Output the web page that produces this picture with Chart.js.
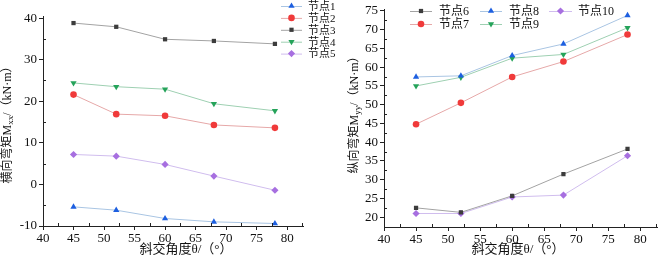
<!DOCTYPE html>
<html>
<head>
<meta charset="utf-8">
<script src="https://cdn.jsdelivr.net/npm/chart.js@4.4.0/dist/chart.umd.min.js"></script>
<style>
  body { margin: 0; background: #fff; }
  #wrap { position: relative; width: 661px; height: 263px; overflow: hidden; }
  canvas { position: absolute; top: 0; }
</style>
</head>
<body>
<div id="wrap">
  <canvas id="left" width="345" height="263" style="left:0"></canvas>
  <canvas id="right" width="331" height="263" style="left:330px"></canvas>
</div>
<script>
// angles (x)
const angles = [45, 52, 60, 68, 78];

// left chart: Mxx
const node1 = [-5.4, -6.2, -8.2, -9.0, -9.4];
const node2 = [21.6, 16.9, 16.5, 14.3, 13.6];
const node3 = [38.8, 37.9, 34.9, 34.5, 33.8];
const node4 = [24.4, 23.5, 22.9, 19.4, 17.7];
const node5 = [7.2, 6.8, 4.8, 2.0, -1.4];

// right chart: Myy
const node6 = [22.5, 21.3, 25.7, 31.5, 38.2];
const node7 = [44.8, 50.5, 57.4, 61.5, 68.7];
const node8 = [57.4, 57.7, 63.1, 66.2, 73.8];
const node9 = [55.0, 57.3, 62.4, 63.4, 70.5];
const node10 = [21.0, 21.0, 25.4, 25.9, 36.4];

const leftTicks = { min: -10, max: 40.5, step: 10 };
const rightTicks = { min: 17.4, max: 75.3, step: 5 };
const xTicks = { min: 40, max: 82.6, step: 5 };

const FONT = '"Liberation Serif", "Noto Sans CJK SC", serif';

// styles : marker colour, line colour, point style, rotation
const styles = {
  blue:   { mk: '#1d5fe0', ln: '#a9c5e3', ps: 'triangle', rot: 0 },
  red:    { mk: '#f03a3a', ln: '#e6a8a8', ps: 'circle', rot: 0 },
  dark:   { mk: '#3c3c3c', ln: '#a3a3a3', ps: 'rect', rot: 0 },
  green:  { mk: '#25a35a', ln: '#9ed0b2', ps: 'triangle', rot: 180 },
  purple: { mk: '#a76fe0', ln: '#d0bdee', ps: 'rectRot', rot: 0 }
};

function makeDs(label, vals, st) {
  const s = styles[st];
  return {
    label: label,
    data: angles.map((a, i) => ({ x: a, y: vals[i] })),
    borderColor: s.ln,
    backgroundColor: s.mk,
    pointBackgroundColor: s.mk,
    pointBorderColor: s.mk,
    pointBorderWidth: 0,
    pointStyle: s.ps,
    pointRotation: s.rot,
    pointRadius: s.ps === 'rect' ? 3 : (s.ps === 'circle' ? 3.3 : 3.6),
    borderWidth: 1,
    tension: 0
  };
}

// titles, minor ticks and legend drawn by hand
const overlay = {
  id: 'overlay',
  afterDraw(chart, args, o) {
    const ctx = chart.ctx;
    const xs = chart.scales.x, ys = chart.scales.y;
    ctx.save();
    ctx.strokeStyle = '#222';
    ctx.lineWidth = 1;
    // minor ticks (inward)
    for (let v = xTicks.min + xTicks.step / 2; v < xTicks.max; v += xTicks.step) {
      const px = Math.round(xs.getPixelForValue(v)) + 0.5;
      ctx.beginPath(); ctx.moveTo(px, ys.bottom); ctx.lineTo(px, ys.bottom - 3); ctx.stroke();
    }
    const yt = o.yt;
    for (let v = Math.ceil(yt.min / yt.step) * yt.step - yt.step / 2; v < yt.max; v += yt.step) {
      if (v < yt.min) continue;
      const py = Math.round(ys.getPixelForValue(v)) + 0.5;
      ctx.beginPath(); ctx.moveTo(xs.left, py); ctx.lineTo(xs.left + 3, py); ctx.stroke();
    }
    // x title
    ctx.fillStyle = '#111';
    ctx.font = '13px ' + FONT;
    ctx.textAlign = 'center';
    ctx.textBaseline = 'middle';
    ctx.fillText('斜交角度θ/（°）', o.xTitleX, 250);
    // y title with subscript
    const big = '12px ' + FONT, small = '9px ' + FONT;
    ctx.font = big;
    const w1 = ctx.measureText(o.yMain).width;
    const w3 = ctx.measureText(o.yUnit).width;
    ctx.font = small;
    const w2 = ctx.measureText(o.ySub).width;
    const total = w1 + w2 + w3;
    ctx.translate(o.yTitleX, o.yTitleY);
    ctx.rotate(-Math.PI / 2);
    ctx.textAlign = 'left';
    let cx = -total / 2;
    ctx.font = big; ctx.fillText(o.yMain, cx, 0); cx += w1;
    ctx.font = small; ctx.fillText(o.ySub, cx, 3); cx += w2;
    ctx.font = big; ctx.fillText(o.yUnit, cx, 0);
    ctx.setTransform(1, 0, 0, 1, 0, 0);
    // legend
    ctx.font = o.legendFont + 'px ' + FONT;
    ctx.textAlign = 'left';
    ctx.textBaseline = 'middle';
    ctx.lineWidth = 1;
    o.legend.forEach(it => {
      const ds = chart.data.datasets[it.i];
      ctx.strokeStyle = ds.borderColor;
      ctx.beginPath(); ctx.moveTo(it.x1, it.y + 0.5); ctx.lineTo(it.x2, it.y + 0.5); ctx.stroke();
      ctx.fillStyle = ds.pointBackgroundColor;
      ctx.strokeStyle = ds.pointBorderColor;
      Chart.helpers.drawPoint(ctx, {
        pointStyle: ds.pointStyle, rotation: ds.pointRotation,
        radius: ds.pointRadius, borderWidth: 0
      }, (it.x1 + it.x2) / 2, it.y);
      ctx.fillStyle = '#111';
      ctx.fillText(ds.label, it.tx, it.y + 1);
    });
    ctx.restore();
  }
};

function makeChart(id, datasets, yt, pad, yWidth, extra) {
  return new Chart(document.getElementById(id), {
    type: 'line',
    data: { datasets: datasets },
    plugins: [overlay],
    options: {
      responsive: false,
      animation: false,
      layout: { padding: pad },
      plugins: { legend: { display: false }, tooltip: { enabled: false }, overlay: Object.assign({ yt: yt }, extra) },
      scales: {
        x: {
          type: 'linear', min: xTicks.min, max: xTicks.max,
          afterFit: s => { s.height = 263 - pad.top - pad.bottom - extra.plotH; },
          grid: { drawOnChartArea: false, drawTicks: true, tickLength: 4, color: '#222' },
          border: { display: true, color: '#222', width: 1 },
          ticks: { stepSize: xTicks.step, includeBounds: false, color: '#111', padding: 1, maxRotation: 0,
                   font: { family: FONT, size: 13 } }
        },
        y: {
          type: 'linear', min: yt.min, max: yt.max,
          afterFit: s => { s.width = yWidth; },
          grid: { drawOnChartArea: false, drawTicks: true, tickLength: 4, color: '#222' },
          border: { display: true, color: '#222', width: 1 },
          ticks: { stepSize: yt.step, includeBounds: false, color: '#111', padding: 2,
                   font: { family: FONT, size: 13 } }
        }
      }
    }
  });
}

makeChart('left', [
  makeDs('节点1', node1, 'blue'),
  makeDs('节点2', node2, 'red'),
  makeDs('节点3', node3, 'dark'),
  makeDs('节点4', node4, 'green'),
  makeDs('节点5', node5, 'purple')
], leftTicks, { top: 16, right: 42, bottom: 0, left: 0 }, 43, {
  plotH: 210, xTitleX: 186, yTitleX: 8, yTitleY: 122,
  yMain: '横向弯矩M', ySub: 'xx', yUnit: '/（kN·m）', legendFont: 11,
  legend: [0, 1, 2, 3, 4].map(i => ({ i: i, x1: 281, x2: 302, tx: 308, y: 6 + i * 11.9 }))
});

makeChart('right', [
  makeDs('节点6', node6, 'dark'),
  makeDs('节点7', node7, 'red'),
  makeDs('节点8', node8, 'blue'),
  makeDs('节点9', node9, 'green'),
  makeDs('节点10', node10, 'purple')
], rightTicks, { top: 4, right: 1, bottom: 0, left: 0 }, 54, {
  plotH: 223, xTitleX: 188, yTitleX: 25, yTitleY: 112,
  yMain: '纵向弯矩M', ySub: 'yy', yUnit: '/（kN·m）', legendFont: 12,
  legend: [
    { i: 0, x1: 80, x2: 102, tx: 109, y: 11 },
    { i: 1, x1: 80, x2: 102, tx: 109, y: 24 },
    { i: 2, x1: 150, x2: 172, tx: 179, y: 11 },
    { i: 3, x1: 150, x2: 172, tx: 179, y: 24 },
    { i: 4, x1: 219, x2: 242, tx: 248, y: 11 }
  ]
});
</script>
</body>
</html>
